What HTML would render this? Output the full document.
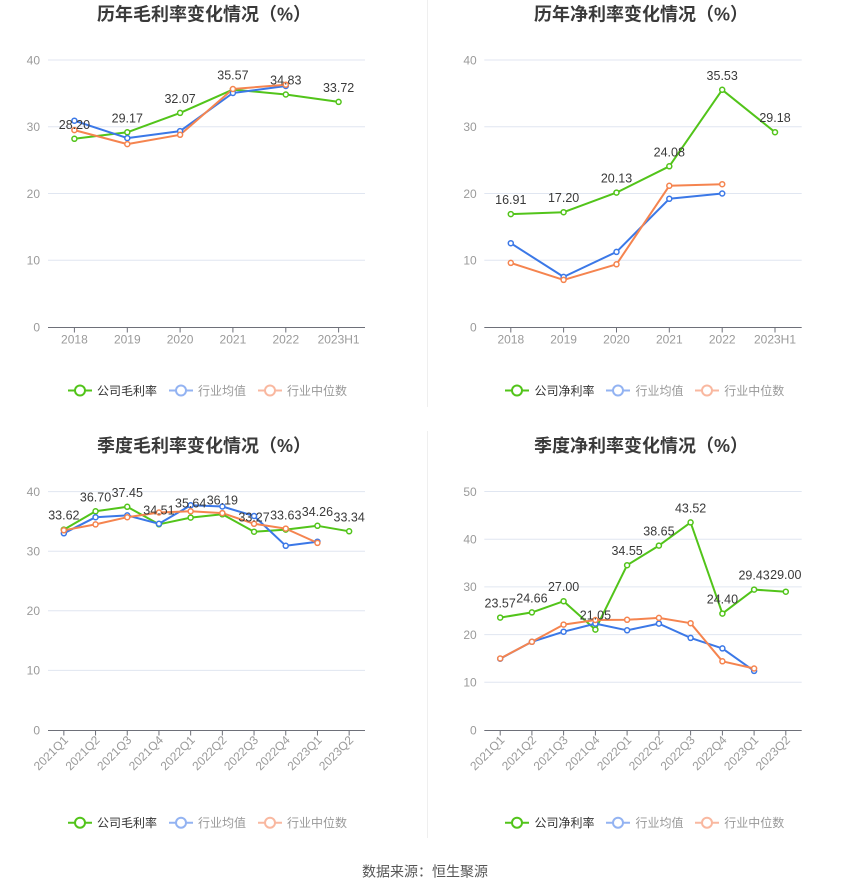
<!DOCTYPE html>
<html><head><meta charset="utf-8"><style>
html,body{margin:0;padding:0;background:#fff;}
svg{display:block;}
text{font-family:"Liberation Sans","Noto Sans CJK SC",sans-serif;}
.t{font-size:18px;font-weight:bold;fill:#3a3a3a;}
.yl{font-size:12px;fill:#9a9a9a;text-anchor:end;}
.xl{font-size:12px;fill:#9a9a9a;text-anchor:middle;}
.xr{font-size:12px;fill:#9a9a9a;text-anchor:end;}
.dl{font-size:12.5px;fill:#3a3a3a;text-anchor:middle;}
.lg{font-size:12px;}
.g{stroke:#e0e6f1;stroke-width:1;}
.ax{stroke:#6e7079;stroke-width:1;}
.gr{fill:none;stroke:#52c41a;stroke-width:2;stroke-linejoin:round;}
.bl{fill:none;stroke:#3b78e7;stroke-width:2;stroke-linejoin:round;}
.or{fill:none;stroke:#f5844f;stroke-width:2;stroke-linejoin:round;}
.mg circle{fill:#fff;stroke:#52c41a;stroke-width:1.5;}
.mb circle{fill:#fff;stroke:#3b78e7;stroke-width:1.5;}
.mo circle{fill:#fff;stroke:#f5844f;stroke-width:1.5;}
</style></head><body>
<svg width="850" height="891" viewBox="0 0 850 891" xmlns="http://www.w3.org/2000/svg">
<rect width="850" height="891" fill="#fff"/>
<!-- dividers -->
<line x1="427.5" y1="0" x2="427.5" y2="407" stroke="#efefef"/>
<line x1="427.5" y1="431" x2="427.5" y2="838" stroke="#efefef"/>

<!-- ============ Chart A ============ -->
<text class="t" x="204" y="20.5" text-anchor="middle">历年毛利率变化情况（%）</text>
<g>
<line class="g" x1="48" y1="60" x2="365" y2="60"/>
<line class="g" x1="48" y1="126.75" x2="365" y2="126.75"/>
<line class="g" x1="48" y1="193.5" x2="365" y2="193.5"/>
<line class="g" x1="48" y1="260.25" x2="365" y2="260.25"/>
<line class="ax" x1="48" y1="327.5" x2="365" y2="327.5"/>
<path class="ax" d="M74.4 327.5v5M127.3 327.5v5M180.1 327.5v5M232.9 327.5v5M285.8 327.5v5M338.6 327.5v5"/>
<text class="yl" x="40" y="64.3">40</text>
<text class="yl" x="40" y="131">30</text>
<text class="yl" x="40" y="197.8">20</text>
<text class="yl" x="40" y="264.5">10</text>
<text class="yl" x="40" y="331.3">0</text>
<text class="xl" x="74.4" y="343.6">2018</text>
<text class="xl" x="127.3" y="343.6">2019</text>
<text class="xl" x="180.1" y="343.6">2020</text>
<text class="xl" x="232.9" y="343.6">2021</text>
<text class="xl" x="285.8" y="343.6">2022</text>
<text class="xl" x="338.6" y="343.6">2023H1</text>
<polyline class="gr" points="74.4,138.8 127.3,132.3 180.1,112.9 232.9,89.6 285.8,94.5 338.6,101.9"/>
<polyline class="bl" points="74.4,120.7 127.3,138.1 180.1,131.1 232.9,93.0 285.8,86.0"/>
<polyline class="or" points="74.4,130.1 127.3,144.1 180.1,134.8 232.9,89.0 285.8,84.7"/>
<g class="mg"><circle cx="74.4" cy="138.8" r="2.5"/><circle cx="127.3" cy="132.3" r="2.5"/><circle cx="180.1" cy="112.9" r="2.5"/><circle cx="232.9" cy="89.6" r="2.5"/><circle cx="285.8" cy="94.5" r="2.5"/><circle cx="338.6" cy="101.9" r="2.5"/></g>
<g class="mb"><circle cx="74.4" cy="120.7" r="2.5"/><circle cx="127.3" cy="138.1" r="2.5"/><circle cx="180.1" cy="131.1" r="2.5"/><circle cx="232.9" cy="93.0" r="2.5"/><circle cx="285.8" cy="86.0" r="2.5"/></g>
<g class="mo"><circle cx="74.4" cy="130.1" r="2.5"/><circle cx="127.3" cy="144.1" r="2.5"/><circle cx="180.1" cy="134.8" r="2.5"/><circle cx="232.9" cy="89.0" r="2.5"/><circle cx="285.8" cy="84.7" r="2.5"/></g>
<text class="dl" x="74.4" y="128.8">28.20</text>
<text class="dl" x="127.3" y="122.3">29.17</text>
<text class="dl" x="180.1" y="102.9">32.07</text>
<text class="dl" x="232.9" y="79.6">35.57</text>
<text class="dl" x="285.8" y="84.5">34.83</text>
<text class="dl" x="338.6" y="91.9">33.72</text>
<!-- legend -->
<line x1="68" y1="390.5" x2="92" y2="390.5" stroke="#52c41a" stroke-width="2"/>
<circle cx="80" cy="390.5" r="5" fill="#fff" stroke="#52c41a" stroke-width="2"/>
<text class="lg" x="97" y="395" fill="#333">公司毛利率</text>
<line x1="169" y1="390.5" x2="193" y2="390.5" stroke="#93b3f2" stroke-width="2"/>
<circle cx="181" cy="390.5" r="5" fill="#fff" stroke="#93b3f2" stroke-width="2"/>
<text class="lg" x="198" y="395" fill="#999">行业均值</text>
<line x1="258" y1="390.5" x2="282" y2="390.5" stroke="#f9b8a0" stroke-width="2"/>
<circle cx="270" cy="390.5" r="5" fill="#fff" stroke="#f9b8a0" stroke-width="2"/>
<text class="lg" x="287" y="395" fill="#999">行业中位数</text>
</g>

<!-- ============ Chart B ============ -->
<text class="t" x="641" y="20.5" text-anchor="middle">历年净利率变化情况（%）</text>
<g>
<line class="g" x1="484.3" y1="60" x2="801.7" y2="60"/>
<line class="g" x1="484.3" y1="126.75" x2="801.7" y2="126.75"/>
<line class="g" x1="484.3" y1="193.5" x2="801.7" y2="193.5"/>
<line class="g" x1="484.3" y1="260.25" x2="801.7" y2="260.25"/>
<line class="ax" x1="484.3" y1="327.5" x2="801.7" y2="327.5"/>
<path class="ax" d="M510.8 327.5v5M563.6 327.5v5M616.5 327.5v5M669.3 327.5v5M722.2 327.5v5M775 327.5v5"/>
<text class="yl" x="476.7" y="64.3">40</text>
<text class="yl" x="476.7" y="131">30</text>
<text class="yl" x="476.7" y="197.8">20</text>
<text class="yl" x="476.7" y="264.5">10</text>
<text class="yl" x="476.7" y="331.3">0</text>
<text class="xl" x="510.8" y="343.6">2018</text>
<text class="xl" x="563.6" y="343.6">2019</text>
<text class="xl" x="616.5" y="343.6">2020</text>
<text class="xl" x="669.3" y="343.6">2021</text>
<text class="xl" x="722.2" y="343.6">2022</text>
<text class="xl" x="775" y="343.6">2023H1</text>
<polyline class="gr" points="510.8,214.1 563.6,212.2 616.5,192.6 669.3,166.3 722.2,89.8 775,132.2"/>
<polyline class="bl" points="510.8,243.2 563.6,276.9 616.5,251.9 669.3,198.8 722.2,193.5"/>
<polyline class="or" points="510.8,262.9 563.6,279.9 616.5,264.3 669.3,185.8 722.2,184.2"/>
<g class="mg"><circle cx="510.8" cy="214.1" r="2.5"/><circle cx="563.6" cy="212.2" r="2.5"/><circle cx="616.5" cy="192.6" r="2.5"/><circle cx="669.3" cy="166.3" r="2.5"/><circle cx="722.2" cy="89.8" r="2.5"/><circle cx="775" cy="132.2" r="2.5"/></g>
<g class="mb"><circle cx="510.8" cy="243.2" r="2.5"/><circle cx="563.6" cy="276.9" r="2.5"/><circle cx="616.5" cy="251.9" r="2.5"/><circle cx="669.3" cy="198.8" r="2.5"/><circle cx="722.2" cy="193.5" r="2.5"/></g>
<g class="mo"><circle cx="510.8" cy="262.9" r="2.5"/><circle cx="563.6" cy="279.9" r="2.5"/><circle cx="616.5" cy="264.3" r="2.5"/><circle cx="669.3" cy="185.8" r="2.5"/><circle cx="722.2" cy="184.2" r="2.5"/></g>
<text class="dl" x="510.8" y="204.1">16.91</text>
<text class="dl" x="563.6" y="202.2">17.20</text>
<text class="dl" x="616.5" y="182.6">20.13</text>
<text class="dl" x="669.3" y="156.3">24.08</text>
<text class="dl" x="722.2" y="79.8">35.53</text>
<text class="dl" x="775" y="122.2">29.18</text>
<line x1="505" y1="390.5" x2="529" y2="390.5" stroke="#52c41a" stroke-width="2"/>
<circle cx="517" cy="390.5" r="5" fill="#fff" stroke="#52c41a" stroke-width="2"/>
<text class="lg" x="534.5" y="395" fill="#333">公司净利率</text>
<line x1="606" y1="390.5" x2="630" y2="390.5" stroke="#93b3f2" stroke-width="2"/>
<circle cx="618" cy="390.5" r="5" fill="#fff" stroke="#93b3f2" stroke-width="2"/>
<text class="lg" x="635.5" y="395" fill="#999">行业均值</text>
<line x1="695" y1="390.5" x2="719" y2="390.5" stroke="#f9b8a0" stroke-width="2"/>
<circle cx="707" cy="390.5" r="5" fill="#fff" stroke="#f9b8a0" stroke-width="2"/>
<text class="lg" x="724.3" y="395" fill="#999">行业中位数</text>
</g>

<!-- ============ Chart C ============ -->
<text class="t" x="204" y="452" text-anchor="middle">季度毛利率变化情况（%）</text>
<g>
<line class="g" x1="48" y1="491.6" x2="365" y2="491.6"/>
<line class="g" x1="48" y1="551.2" x2="365" y2="551.2"/>
<line class="g" x1="48" y1="610.8" x2="365" y2="610.8"/>
<line class="g" x1="48" y1="670.4" x2="365" y2="670.4"/>
<line class="ax" x1="48" y1="730.5" x2="365" y2="730.5"/>
<path class="ax" d="M63.85 730.5v5M95.55 730.5v5M127.25 730.5v5M158.95 730.5v5M190.65 730.5v5M222.35 730.5v5M254.05 730.5v5M285.75 730.5v5M317.45 730.5v5M349.15 730.5v5"/>
<text class="yl" x="40" y="495.9">40</text>
<text class="yl" x="40" y="555.5">30</text>
<text class="yl" x="40" y="615.1">20</text>
<text class="yl" x="40" y="674.7">10</text>
<text class="yl" x="40" y="734.3">0</text>
<text class="xr" x="66" y="742" transform="rotate(-45 66 738)">2021Q1</text>
<text class="xr" x="97.7" y="742" transform="rotate(-45 97.7 738)">2021Q2</text>
<text class="xr" x="129.4" y="742" transform="rotate(-45 129.4 738)">2021Q3</text>
<text class="xr" x="161.1" y="742" transform="rotate(-45 161.1 738)">2021Q4</text>
<text class="xr" x="192.8" y="742" transform="rotate(-45 192.8 738)">2022Q1</text>
<text class="xr" x="224.5" y="742" transform="rotate(-45 224.5 738)">2022Q2</text>
<text class="xr" x="256.2" y="742" transform="rotate(-45 256.2 738)">2022Q3</text>
<text class="xr" x="287.9" y="742" transform="rotate(-45 287.9 738)">2022Q4</text>
<text class="xr" x="319.6" y="742" transform="rotate(-45 319.6 738)">2023Q1</text>
<text class="xr" x="351.3" y="742" transform="rotate(-45 351.3 738)">2023Q2</text>
<polyline class="gr" points="63.85,529.6 95.55,511.3 127.25,506.8 158.95,524.3 190.65,517.6 222.35,514.3 254.05,531.7 285.75,529.6 317.45,525.8 349.15,531.3"/>
<polyline class="bl" points="63.85,533.3 95.55,517.2 127.25,515.4 158.95,523.8 190.65,505.3 222.35,506.5 254.05,516.0 285.75,545.8 317.45,541.7"/>
<polyline class="or" points="63.85,530.3 95.55,524.4 127.25,517.2 158.95,512.5 190.65,511.3 222.35,513.1 254.05,523.8 285.75,528.6 317.45,542.9"/>
<g class="mg"><circle cx="63.85" cy="529.6" r="2.5"/><circle cx="95.55" cy="511.3" r="2.5"/><circle cx="127.25" cy="506.8" r="2.5"/><circle cx="158.95" cy="524.3" r="2.5"/><circle cx="190.65" cy="517.6" r="2.5"/><circle cx="222.35" cy="514.3" r="2.5"/><circle cx="254.05" cy="531.7" r="2.5"/><circle cx="285.75" cy="529.6" r="2.5"/><circle cx="317.45" cy="525.8" r="2.5"/><circle cx="349.15" cy="531.3" r="2.5"/></g>
<g class="mb"><circle cx="63.85" cy="533.3" r="2.5"/><circle cx="95.55" cy="517.2" r="2.5"/><circle cx="127.25" cy="515.4" r="2.5"/><circle cx="158.95" cy="523.8" r="2.5"/><circle cx="190.65" cy="505.3" r="2.5"/><circle cx="222.35" cy="506.5" r="2.5"/><circle cx="254.05" cy="516.0" r="2.5"/><circle cx="285.75" cy="545.8" r="2.5"/><circle cx="317.45" cy="541.7" r="2.5"/></g>
<g class="mo"><circle cx="63.85" cy="530.3" r="2.5"/><circle cx="95.55" cy="524.4" r="2.5"/><circle cx="127.25" cy="517.2" r="2.5"/><circle cx="158.95" cy="512.5" r="2.5"/><circle cx="190.65" cy="511.3" r="2.5"/><circle cx="222.35" cy="513.1" r="2.5"/><circle cx="254.05" cy="523.8" r="2.5"/><circle cx="285.75" cy="528.6" r="2.5"/><circle cx="317.45" cy="542.9" r="2.5"/></g>
<text class="dl" x="63.85" y="519.6">33.62</text>
<text class="dl" x="95.55" y="501.3">36.70</text>
<text class="dl" x="127.25" y="496.8">37.45</text>
<text class="dl" x="158.95" y="514.3">34.51</text>
<text class="dl" x="190.65" y="507.6">35.64</text>
<text class="dl" x="222.35" y="504.3">36.19</text>
<text class="dl" x="254.05" y="521.7">33.27</text>
<text class="dl" x="285.75" y="519.6">33.63</text>
<text class="dl" x="317.45" y="515.8">34.26</text>
<text class="dl" x="349.15" y="521.3">33.34</text>
<line x1="68" y1="822.7" x2="92" y2="822.7" stroke="#52c41a" stroke-width="2"/>
<circle cx="80" cy="822.7" r="5" fill="#fff" stroke="#52c41a" stroke-width="2"/>
<text class="lg" x="97" y="827.2" fill="#333">公司毛利率</text>
<line x1="169" y1="822.7" x2="193" y2="822.7" stroke="#93b3f2" stroke-width="2"/>
<circle cx="181" cy="822.7" r="5" fill="#fff" stroke="#93b3f2" stroke-width="2"/>
<text class="lg" x="198" y="827.2" fill="#999">行业均值</text>
<line x1="258" y1="822.7" x2="282" y2="822.7" stroke="#f9b8a0" stroke-width="2"/>
<circle cx="270" cy="822.7" r="5" fill="#fff" stroke="#f9b8a0" stroke-width="2"/>
<text class="lg" x="287" y="827.2" fill="#999">行业中位数</text>
</g>

<!-- ============ Chart D ============ -->
<text class="t" x="641" y="452" text-anchor="middle">季度净利率变化情况（%）</text>
<g>
<line class="g" x1="484.3" y1="491.5" x2="801.7" y2="491.5"/>
<line class="g" x1="484.3" y1="539.2" x2="801.7" y2="539.2"/>
<line class="g" x1="484.3" y1="586.9" x2="801.7" y2="586.9"/>
<line class="g" x1="484.3" y1="634.6" x2="801.7" y2="634.6"/>
<line class="g" x1="484.3" y1="682.3" x2="801.7" y2="682.3"/>
<line class="ax" x1="484.3" y1="730.5" x2="801.7" y2="730.5"/>
<path class="ax" d="M500.2 730.5v5M531.9 730.5v5M563.6 730.5v5M595.4 730.5v5M627.1 730.5v5M658.9 730.5v5M690.6 730.5v5M722.4 730.5v5M754.1 730.5v5M785.8 730.5v5"/>
<text class="yl" x="476.7" y="495.8">50</text>
<text class="yl" x="476.7" y="543.5">40</text>
<text class="yl" x="476.7" y="591.2">30</text>
<text class="yl" x="476.7" y="638.9">20</text>
<text class="yl" x="476.7" y="686.6">10</text>
<text class="yl" x="476.7" y="734.3">0</text>
<text class="xr" x="502.4" y="742" transform="rotate(-45 502.4 738)">2021Q1</text>
<text class="xr" x="534.1" y="742" transform="rotate(-45 534.1 738)">2021Q2</text>
<text class="xr" x="565.8" y="742" transform="rotate(-45 565.8 738)">2021Q3</text>
<text class="xr" x="597.6" y="742" transform="rotate(-45 597.6 738)">2021Q4</text>
<text class="xr" x="629.3" y="742" transform="rotate(-45 629.3 738)">2022Q1</text>
<text class="xr" x="661.1" y="742" transform="rotate(-45 661.1 738)">2022Q2</text>
<text class="xr" x="692.8" y="742" transform="rotate(-45 692.8 738)">2022Q3</text>
<text class="xr" x="724.6" y="742" transform="rotate(-45 724.6 738)">2022Q4</text>
<text class="xr" x="756.3" y="742" transform="rotate(-45 756.3 738)">2023Q1</text>
<text class="xr" x="788" y="742" transform="rotate(-45 788 738)">2023Q2</text>
<polyline class="gr" points="500.2,617.6 531.9,612.4 563.6,601.2 595.4,629.6 627.1,565.2 658.9,545.6 690.6,522.4 722.4,613.6 754.1,589.6 785.8,591.7"/>
<polyline class="bl" points="500.2,658.7 531.9,641.8 563.6,631.7 595.4,623.6 627.1,630.3 658.9,623.6 690.6,637.9 722.4,648.4 754.1,670.9"/>
<polyline class="or" points="500.2,658.5 531.9,641.8 563.6,624.6 595.4,620.0 627.1,619.8 658.9,617.9 690.6,623.2 722.4,661.3 754.1,668.5"/>
<g class="mg"><circle cx="500.2" cy="617.6" r="2.5"/><circle cx="531.9" cy="612.4" r="2.5"/><circle cx="563.6" cy="601.2" r="2.5"/><circle cx="595.4" cy="629.6" r="2.5"/><circle cx="627.1" cy="565.2" r="2.5"/><circle cx="658.9" cy="545.6" r="2.5"/><circle cx="690.6" cy="522.4" r="2.5"/><circle cx="722.4" cy="613.6" r="2.5"/><circle cx="754.1" cy="589.6" r="2.5"/><circle cx="785.8" cy="591.7" r="2.5"/></g>
<g class="mb"><circle cx="500.2" cy="658.7" r="2.5"/><circle cx="531.9" cy="641.8" r="2.5"/><circle cx="563.6" cy="631.7" r="2.5"/><circle cx="595.4" cy="623.6" r="2.5"/><circle cx="627.1" cy="630.3" r="2.5"/><circle cx="658.9" cy="623.6" r="2.5"/><circle cx="690.6" cy="637.9" r="2.5"/><circle cx="722.4" cy="648.4" r="2.5"/><circle cx="754.1" cy="670.9" r="2.5"/></g>
<g class="mo"><circle cx="500.2" cy="658.5" r="2.5"/><circle cx="531.9" cy="641.8" r="2.5"/><circle cx="563.6" cy="624.6" r="2.5"/><circle cx="595.4" cy="620.0" r="2.5"/><circle cx="627.1" cy="619.8" r="2.5"/><circle cx="658.9" cy="617.9" r="2.5"/><circle cx="690.6" cy="623.2" r="2.5"/><circle cx="722.4" cy="661.3" r="2.5"/><circle cx="754.1" cy="668.5" r="2.5"/></g>
<text class="dl" x="500.2" y="607.6">23.57</text>
<text class="dl" x="531.9" y="602.4">24.66</text>
<text class="dl" x="563.6" y="591.2">27.00</text>
<text class="dl" x="595.4" y="619.6">21.05</text>
<text class="dl" x="627.1" y="555.2">34.55</text>
<text class="dl" x="658.9" y="535.6">38.65</text>
<text class="dl" x="690.6" y="512.4">43.52</text>
<text class="dl" x="722.4" y="603.6">24.40</text>
<text class="dl" x="754.1" y="579.4">29.43</text>
<text class="dl" x="785.8" y="579">29.00</text>
<line x1="505" y1="822.7" x2="529" y2="822.7" stroke="#52c41a" stroke-width="2"/>
<circle cx="517" cy="822.7" r="5" fill="#fff" stroke="#52c41a" stroke-width="2"/>
<text class="lg" x="534.5" y="827.2" fill="#333">公司净利率</text>
<line x1="606" y1="822.7" x2="630" y2="822.7" stroke="#93b3f2" stroke-width="2"/>
<circle cx="618" cy="822.7" r="5" fill="#fff" stroke="#93b3f2" stroke-width="2"/>
<text class="lg" x="635.5" y="827.2" fill="#999">行业均值</text>
<line x1="695" y1="822.7" x2="719" y2="822.7" stroke="#f9b8a0" stroke-width="2"/>
<circle cx="707" cy="822.7" r="5" fill="#fff" stroke="#f9b8a0" stroke-width="2"/>
<text class="lg" x="724.3" y="827.2" fill="#999">行业中位数</text>
</g>

<text x="362" y="876.5" font-size="14" fill="#555">数据来源：恒生聚源</text>
</svg>
</body></html>
